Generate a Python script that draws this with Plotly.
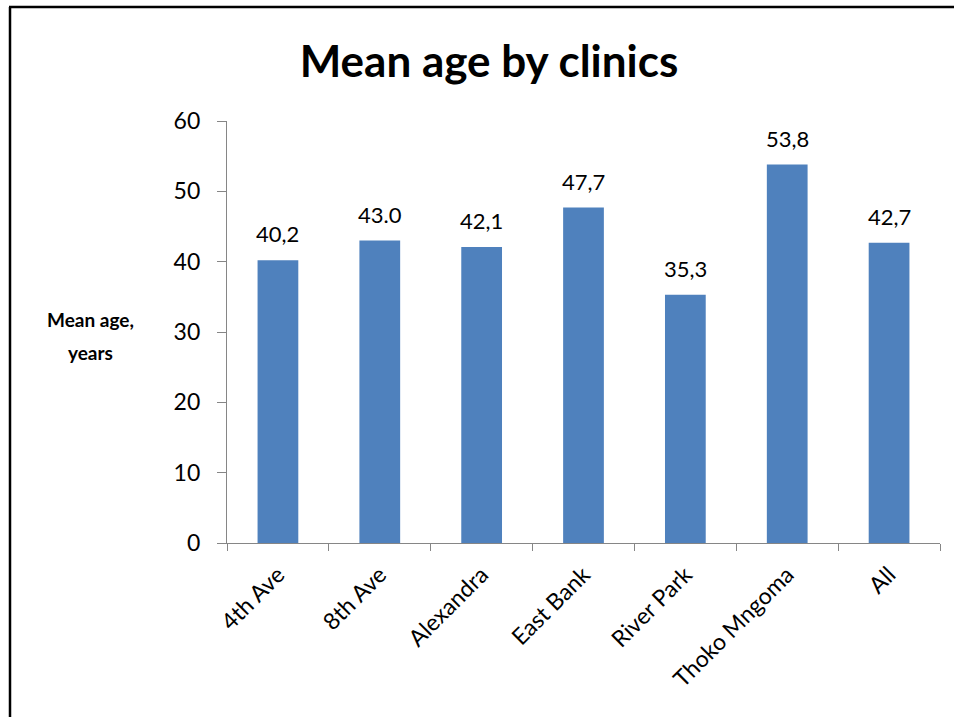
import plotly.graph_objects as go

clinics = ["4th Ave", "8th Ave", "Alexandra", "East Bank", "River Park", "Thoko Mngoma", "All"]
mean_age = [40.2, 43.0, 42.1, 47.7, 35.3, 53.8, 42.7]
value_labels = ["40,2", "43.0", "42,1", "47,7", "35,3", "53,8", "42,7"]
y_ticks = [0, 10, 20, 30, 40, 50, 60]
caption_lines = ["Mean age,", "years"]

FONT = "Lato, Carlito, Calibri, sans-serif"
AXIS_GREY = "#868686"

W, H = 954, 717
L, R, T, B = 227, 14, 121, 174
pw, ph = W - L - R, H - T - B


def px_x(x):
    return (x - L) / pw


def px_y(y):
    return (H - B - y) / ph


fig = go.Figure(
    go.Bar(
        x=clinics,
        y=mean_age,
        marker=dict(color="#4F81BD", line=dict(width=0)),
        width=0.4,
        hoverinfo="x+y",
    )
)

# value labels above bars
for c, v, lab in zip(clinics, mean_age, value_labels):
    fig.add_annotation(
        x=c, y=v, text=lab, showarrow=False, xref="x", yref="y",
        yanchor="bottom", yshift=11,
        font=dict(family=FONT, size=22, color="#000000"),
    )

# y-axis caption, horizontal, two lines
for line_text, ypix in zip(caption_lines, [319, 352]):
    fig.add_annotation(
        x=px_x(90), y=px_y(ypix), xref="paper", yref="paper",
        text="<b>" + line_text + "</b>", showarrow=False,
        xanchor="center", yanchor="middle",
        font=dict(family=FONT, size=19, color="#000000"),
    )

# frame lines (top and left)
fig.add_shape(type="line", xref="paper", yref="paper",
              x0=px_x(9), x1=px_x(960), y0=px_y(7), y1=px_y(7),
              line=dict(color="#000000", width=2.5))
fig.add_shape(type="line", xref="paper", yref="paper",
              x0=px_x(10), x1=px_x(10), y0=px_y(7), y1=px_y(720),
              line=dict(color="#000000", width=2.5))

fig.update_layout(
    width=W, height=H,
    margin=dict(l=L, r=R, t=T, b=B, pad=0),
    paper_bgcolor="white", plot_bgcolor="white",
    showlegend=False,
    title=dict(
        text="<b>Mean age by clinics</b>",
        x=px_x(489), xref="paper", xanchor="center",
        y=1 - 62 / H, yanchor="middle",
        font=dict(family=FONT, size=44, color="#000000"),
    ),
    bargap=0.6,
    xaxis=dict(
        showline=True, linecolor=AXIS_GREY, linewidth=1.3,
        ticks="outside", tickson="boundaries", ticklen=7, tickcolor=AXIS_GREY,
        tickangle=-45, showgrid=False, zeroline=False,
        ticklabelstandoff=8,
        tickfont=dict(family=FONT, size=23, color="#000000"),
    ),
    yaxis=dict(
        range=[0, 60], tickvals=y_ticks,
        showline=True, linecolor=AXIS_GREY, linewidth=1.3,
        ticks="outside", ticklen=9, tickcolor=AXIS_GREY,
        showgrid=False, zeroline=False,
        ticklabelstandoff=12,
        tickfont=dict(family=FONT, size=23, color="#000000"),
    ),
)

fig.write_html("out.html")
